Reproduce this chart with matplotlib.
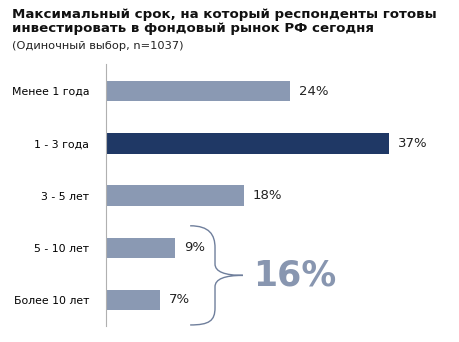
import matplotlib.pyplot as plt
from matplotlib.path import Path
from matplotlib.patches import PathPatch

# survey answers
categories = ['Менее 1 года', '1 - 3 года', '3 - 5 лет', '5 - 10 лет', 'Более 10 лет']
values = [24, 37, 18, 9, 7]
highlight = 1
long_term = [3, 4]  # grouped under the brace

light = '#8a99b3'
dark = '#1f3865'

fig = plt.figure(figsize=(4.59, 3.42), dpi=100)
ax = fig.add_axes([106/459, 1-326/342, 344/459, (326-64)/342])

colors = [dark if i == highlight else light for i in range(len(values))]
ypos = list(range(len(values)))
ax.barh(ypos, values, height=0.39, color=colors)

for y, v in zip(ypos, values):
    ax.text(v + 1.2, y, f'{v}%', va='center', ha='left', fontsize=9.5, color='#222222')

ax.set_xlim(0, 344/7.65)
ax.set_ylim(4.5, -0.52)
ax.set_yticks(ypos)
ax.set_yticklabels(categories, fontsize=7.8)
ax.tick_params(axis='y', length=0, pad=12)
ax.set_xticks([])
for s in ['top', 'right', 'bottom']:
    ax.spines[s].set_visible(False)
ax.spines['left'].set_color('#b0b0b0')
ax.spines['left'].set_linewidth(0.8)

# brace around the long-term rows
y0, y1 = long_term[0] - 0.42, long_term[1] + 0.48
ym = (y0 + y1) / 2
xs, xv, xp = 11.0, 14.25, 17.9
verts = [(xs, y0), (13.5, y0), (xv, y0 + 0.17), (xv, y0 + 0.42),
         (xv, ym - 0.22),
         (xv, ym - 0.07), (15.5, ym), (xp, ym),
         (15.5, ym), (xv, ym + 0.07), (xv, ym + 0.22),
         (xv, y1 - 0.33),
         (xv, y1 - 0.08), (13.5, y1), (xs, y1)]
codes = [Path.MOVETO, Path.CURVE4, Path.CURVE4, Path.CURVE4,
         Path.LINETO,
         Path.CURVE4, Path.CURVE4, Path.CURVE4,
         Path.CURVE4, Path.CURVE4, Path.CURVE4,
         Path.LINETO,
         Path.CURVE4, Path.CURVE4, Path.CURVE4]
ax.add_patch(PathPatch(Path(verts, codes), fill=False, edgecolor='#6f7f9c', lw=1.0))

total = sum(values[i] for i in long_term)
ax.text(xp + 1.3, ym, f'{total}%', va='center', ha='left', fontsize=25,
        fontweight='bold', color='#8896b0')

fig.text(12/459, 1-8/342, 'Максимальный срок, на который респонденты готовы\nинвестировать в фондовый рынок РФ сегодня',
         ha='left', va='top', fontsize=9.6, fontweight='bold', color='#111111', linespacing=1.1)
fig.text(12/459, 1-41/342, '(Одиночный выбор, n=1037)', ha='left', va='top',
         fontsize=8.2, color='#222222')

fig.savefig('out.png', dpi=100)
